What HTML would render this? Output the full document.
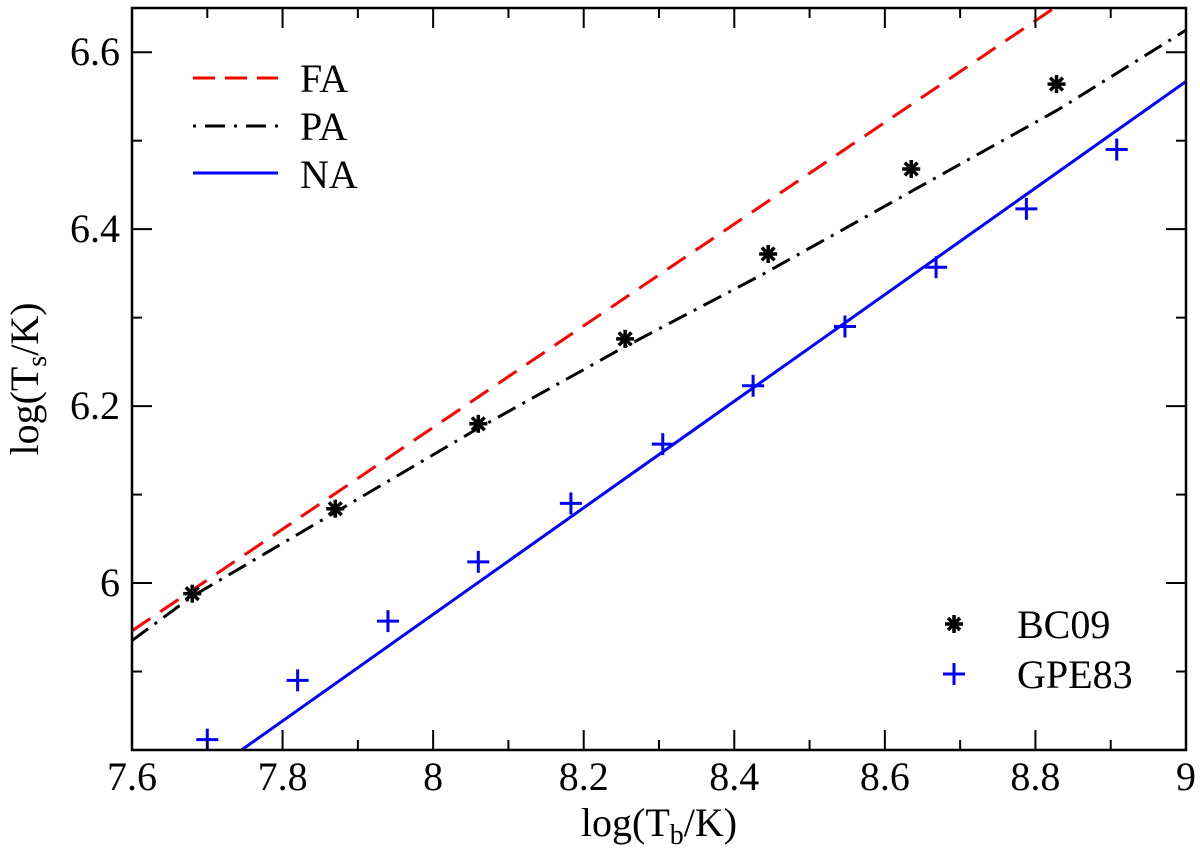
<!DOCTYPE html>
<html><head><meta charset="utf-8"><style>
body{margin:0;background:#fff}
text,tspan{font-family:"Liberation Serif","Times New Roman",serif !important;fill:#000}
</style></head><body>
<svg id="c" width="1200" height="854" xmlns="http://www.w3.org/2000/svg" font-family="Liberation Serif, serif"></svg>
<script>
const xTicks=[7.6,7.8,8,8.2,8.4,8.6,8.8,9];
const xTickLabels=["7.6","7.8","8","8.2","8.4","8.6","8.8","9"];
const yTicks=[6,6.2,6.4,6.6];
const yTickLabels=["6","6.2","6.4","6.6"];
const faX=[7.6,8.825];
const faY=[5.946,6.65];
const naX=[7.745,9];
const naY=[5.811,6.567];
const paX=[7.6,7.68,7.87,8.06,8.25,8.44,8.64,8.83,9];
const paY=[5.935,5.985,6.08,6.175,6.265,6.35,6.445,6.535,6.625];
const bcX=[7.68,7.87,8.06,8.255,8.445,8.635,8.828];
const bcY=[5.988,6.084,6.18,6.276,6.372,6.468,6.564];
const gpX=[7.70,7.82,7.94,8.06,8.183,8.305,8.425,8.547,8.668,8.788,8.908];
const gpY=[5.823,5.89,5.957,6.024,6.09,6.157,6.223,6.29,6.357,6.423,6.49];

const L=132,R=1186,T=8,B=750,x0=7.6,x1=9,y0=5.8113,y1=6.65;
const sx=v=>L+(v-x0)/(x1-x0)*(R-L);
const sy=v=>B-(v-y0)/(y1-y0)*(B-T);
const svg=document.getElementById('c');
const NS='http://www.w3.org/2000/svg';
function mk(tag,at,parent){const e=document.createElementNS(NS,tag);for(const k in at)e.setAttribute(k,at[k]);(parent||svg).appendChild(e);return e;}
const defs=mk('clipPath',{id:'clip'});mk('rect',{x:L,y:T,width:R-L,height:B-T},defs);
const plot=mk('g',{'clip-path':'url(#clip)'});


function line(xs,ys,st,name){const p=mk('polyline',{points:xs.map((x,i)=>sx(x)+','+sy(ys[i])).join(' '),fill:'none',...st},plot);

}
line(faX,faY,{stroke:'#f00','stroke-width':3,'stroke-dasharray':'22 12'},'fa-line');
line(paX,paY,{stroke:'#000','stroke-width':3,'stroke-dasharray':'20 8 3 8'},'pa-line');
line(naX,naY,{stroke:'#00f','stroke-width':3},'na-line');
function star(cx,cy,g){for(let a=0;a<4;a++){const t=a*Math.PI/4,r=9;mk('line',{x1:cx-r*Math.cos(t),y1:cy-r*Math.sin(t),x2:cx+r*Math.cos(t),y2:cy+r*Math.sin(t),stroke:'#000','stroke-width':3.5},g);}}
function plus(cx,cy,g){mk('line',{x1:cx-11,y1:cy,x2:cx+11,y2:cy,stroke:'#00f','stroke-width':3},g);mk('line',{x1:cx,y1:cy-11,x2:cx,y2:cy+11,stroke:'#00f','stroke-width':3},g);}
bcX.forEach((x,i)=>{const g=mk('g',{},plot);


star(sx(x),sy(bcY[i]),g);});
gpX.forEach((x,i)=>{const g=mk('g',{},plot);


plus(sx(x),sy(gpY[i]),g);});
const fr=mk('rect',{x:L,y:T,width:R-L,height:B-T,fill:'none',stroke:'#000','stroke-width':2.5});


for(let v=7.6;v<=9.0001;v+=0.1){const X=sx(v);const major=Math.abs(v*5-Math.round(v*5))<1e-6;const len=major?20:10;
mk('line',{x1:X,y1:B,x2:X,y2:B-len,stroke:'#000','stroke-width':2});mk('line',{x1:X,y1:T,x2:X,y2:T+len,stroke:'#000','stroke-width':2});}
xTicks.forEach((v,i)=>{const t=mk('text',{x:sx(v),y:790,'font-size':40,'text-anchor':'middle','font-family':'Liberation Serif, serif'});t.textContent=xTickLabels[i];

});
for(let v=5.9;v<=6.65;v+=0.1){const Y=sy(v);const major=Math.abs(v*5-Math.round(v*5))<1e-6;const len=major?20:10;
mk('line',{x1:L,y1:Y,x2:L+len,y2:Y,stroke:'#000','stroke-width':2});mk('line',{x1:R,y1:Y,x2:R-len,y2:Y,stroke:'#000','stroke-width':2});}
yTicks.forEach((v,i)=>{const t=mk('text',{x:120,y:sy(v)+13,'font-size':40,'text-anchor':'end','font-family':'Liberation Serif, serif'});t.textContent=yTickLabels[i];

});
</script>
<svg width="1200" height="854" style="position:absolute;left:0;top:0" xmlns="http://www.w3.org/2000/svg" font-family="Liberation Serif, serif">
<text x="659" y="836" font-size="40" text-anchor="middle">log(T<tspan font-size="28" dy="8">b</tspan><tspan dy="-8">/K)</tspan></text>
<text transform="translate(38,379) rotate(-90)" font-size="40" text-anchor="middle">log(T<tspan font-size="28" dy="8">s</tspan><tspan dy="-8">/K)</tspan></text>
<g><line x1="193" y1="78" x2="278" y2="78" stroke="#f00" stroke-width="3" stroke-dasharray="22 10"/><text x="300" y="92" font-size="40">FA</text></g>
<g><line x1="193" y1="126" x2="278" y2="126" stroke="#000" stroke-width="3" stroke-dasharray="3 9 20 9"/><text x="300" y="140" font-size="40">PA</text></g>
<g><line x1="193" y1="173" x2="278" y2="173" stroke="#00f" stroke-width="3"/><text x="300" y="188" font-size="40">NA</text></g>
<g stroke="#000" stroke-width="3.5"><line x1="945" y1="624" x2="963" y2="624"/><line x1="954" y1="615" x2="954" y2="633"/><line x1="948" y1="618" x2="960" y2="630"/><line x1="948" y1="630" x2="960" y2="618"/></g>
<text x="1017" y="638" font-size="40">BC09</text>
<g stroke="#00f" stroke-width="3"><line x1="943" y1="674" x2="965" y2="674"/><line x1="954" y1="663" x2="954" y2="685"/></g>
<text x="1017" y="688" font-size="40">GPE83</text>
</svg>
</body></html>
